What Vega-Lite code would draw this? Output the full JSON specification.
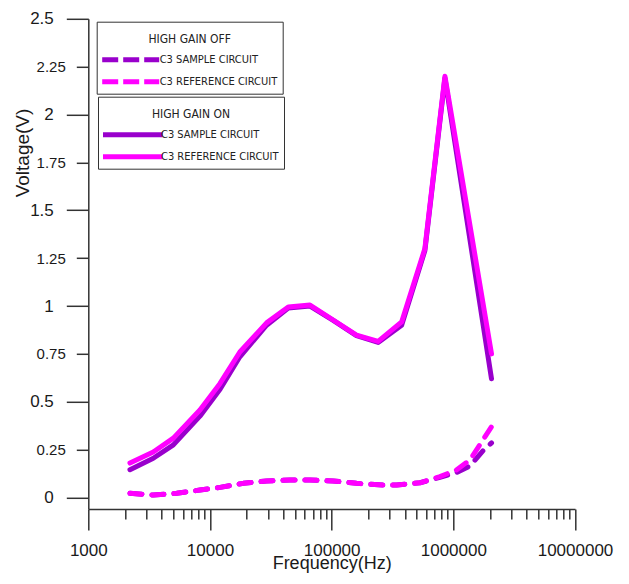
{
  "$schema": "https://vega.github.io/schema/vega-lite/v6.json",
  "width": 486.7,
  "height": 490.2,
  "autosize": {"type": "none"},
  "padding": {"left": 88.3, "top": 18.8, "right": 54, "bottom": 75},
  "background": "white",
  "config": {"view": {"stroke": null}, "font": "Liberation Sans"},
  "data": {
    "values": [
      {"f": 2200, "v": 0.022, "c": "C3 SAMPLE CIRCUIT", "g": "OFF"},
      {"f": 3420, "v": 0.013, "c": "C3 SAMPLE CIRCUIT", "g": "OFF"},
      {"f": 5330, "v": 0.022, "c": "C3 SAMPLE CIRCUIT", "g": "OFF"},
      {"f": 8270, "v": 0.039, "c": "C3 SAMPLE CIRCUIT", "g": "OFF"},
      {"f": 12100, "v": 0.053, "c": "C3 SAMPLE CIRCUIT", "g": "OFF"},
      {"f": 18800, "v": 0.074, "c": "C3 SAMPLE CIRCUIT", "g": "OFF"},
      {"f": 29200, "v": 0.086, "c": "C3 SAMPLE CIRCUIT", "g": "OFF"},
      {"f": 45400, "v": 0.091, "c": "C3 SAMPLE CIRCUIT", "g": "OFF"},
      {"f": 66400, "v": 0.091, "c": "C3 SAMPLE CIRCUIT", "g": "OFF"},
      {"f": 103000, "v": 0.086, "c": "C3 SAMPLE CIRCUIT", "g": "OFF"},
      {"f": 160000, "v": 0.074, "c": "C3 SAMPLE CIRCUIT", "g": "OFF"},
      {"f": 265000, "v": 0.065, "c": "C3 SAMPLE CIRCUIT", "g": "OFF"},
      {"f": 342000, "v": 0.065, "c": "C3 SAMPLE CIRCUIT", "g": "OFF"},
      {"f": 532000, "v": 0.077, "c": "C3 SAMPLE CIRCUIT", "g": "OFF"},
      {"f": 776000, "v": 0.105, "c": "C3 SAMPLE CIRCUIT", "g": "OFF"},
      {"f": 1060000, "v": 0.13, "c": "C3 SAMPLE CIRCUIT", "g": "OFF"},
      {"f": 1370000, "v": 0.165, "c": "C3 SAMPLE CIRCUIT", "g": "OFF"},
      {"f": 1760000, "v": 0.245, "c": "C3 SAMPLE CIRCUIT", "g": "OFF"},
      {"f": 2060000, "v": 0.285, "c": "C3 SAMPLE CIRCUIT", "g": "OFF"},
      {"f": 2200, "v": 0.022, "c": "C3 REFERENCE CIRCUIT", "g": "OFF"},
      {"f": 3420, "v": 0.013, "c": "C3 REFERENCE CIRCUIT", "g": "OFF"},
      {"f": 5330, "v": 0.022, "c": "C3 REFERENCE CIRCUIT", "g": "OFF"},
      {"f": 8270, "v": 0.039, "c": "C3 REFERENCE CIRCUIT", "g": "OFF"},
      {"f": 12100, "v": 0.053, "c": "C3 REFERENCE CIRCUIT", "g": "OFF"},
      {"f": 18800, "v": 0.074, "c": "C3 REFERENCE CIRCUIT", "g": "OFF"},
      {"f": 29200, "v": 0.086, "c": "C3 REFERENCE CIRCUIT", "g": "OFF"},
      {"f": 45400, "v": 0.091, "c": "C3 REFERENCE CIRCUIT", "g": "OFF"},
      {"f": 66400, "v": 0.091, "c": "C3 REFERENCE CIRCUIT", "g": "OFF"},
      {"f": 103000, "v": 0.086, "c": "C3 REFERENCE CIRCUIT", "g": "OFF"},
      {"f": 160000, "v": 0.074, "c": "C3 REFERENCE CIRCUIT", "g": "OFF"},
      {"f": 265000, "v": 0.065, "c": "C3 REFERENCE CIRCUIT", "g": "OFF"},
      {"f": 342000, "v": 0.065, "c": "C3 REFERENCE CIRCUIT", "g": "OFF"},
      {"f": 532000, "v": 0.077, "c": "C3 REFERENCE CIRCUIT", "g": "OFF"},
      {"f": 776000, "v": 0.109, "c": "C3 REFERENCE CIRCUIT", "g": "OFF"},
      {"f": 1060000, "v": 0.144, "c": "C3 REFERENCE CIRCUIT", "g": "OFF"},
      {"f": 1370000, "v": 0.196, "c": "C3 REFERENCE CIRCUIT", "g": "OFF"},
      {"f": 2060000, "v": 0.37, "c": "C3 REFERENCE CIRCUIT", "g": "OFF"},
      {"f": 2200, "v": 0.145, "c": "C3 SAMPLE CIRCUIT", "g": "ON"},
      {"f": 3420, "v": 0.205, "c": "C3 SAMPLE CIRCUIT", "g": "ON"},
      {"f": 5000, "v": 0.275, "c": "C3 SAMPLE CIRCUIT", "g": "ON"},
      {"f": 8270, "v": 0.425, "c": "C3 SAMPLE CIRCUIT", "g": "ON"},
      {"f": 12100, "v": 0.565, "c": "C3 SAMPLE CIRCUIT", "g": "ON"},
      {"f": 17600, "v": 0.735, "c": "C3 SAMPLE CIRCUIT", "g": "ON"},
      {"f": 29200, "v": 0.9, "c": "C3 SAMPLE CIRCUIT", "g": "ON"},
      {"f": 44000, "v": 0.99, "c": "C3 SAMPLE CIRCUIT", "g": "ON"},
      {"f": 66400, "v": 1.0, "c": "C3 SAMPLE CIRCUIT", "g": "ON"},
      {"f": 103000, "v": 0.925, "c": "C3 SAMPLE CIRCUIT", "g": "ON"},
      {"f": 160000, "v": 0.845, "c": "C3 SAMPLE CIRCUIT", "g": "ON"},
      {"f": 241000, "v": 0.81, "c": "C3 SAMPLE CIRCUIT", "g": "ON"},
      {"f": 376000, "v": 0.9, "c": "C3 SAMPLE CIRCUIT", "g": "ON"},
      {"f": 584000, "v": 1.29, "c": "C3 SAMPLE CIRCUIT", "g": "ON"},
      {"f": 853000, "v": 2.19, "c": "C3 SAMPLE CIRCUIT", "g": "ON"},
      {"f": 2060000, "v": 0.62, "c": "C3 SAMPLE CIRCUIT", "g": "ON"},
      {"f": 2200, "v": 0.18, "c": "C3 REFERENCE CIRCUIT", "g": "ON"},
      {"f": 3420, "v": 0.238, "c": "C3 REFERENCE CIRCUIT", "g": "ON"},
      {"f": 5000, "v": 0.31, "c": "C3 REFERENCE CIRCUIT", "g": "ON"},
      {"f": 8270, "v": 0.457, "c": "C3 REFERENCE CIRCUIT", "g": "ON"},
      {"f": 12100, "v": 0.596, "c": "C3 REFERENCE CIRCUIT", "g": "ON"},
      {"f": 17600, "v": 0.76, "c": "C3 REFERENCE CIRCUIT", "g": "ON"},
      {"f": 29200, "v": 0.912, "c": "C3 REFERENCE CIRCUIT", "g": "ON"},
      {"f": 44000, "v": 0.995, "c": "C3 REFERENCE CIRCUIT", "g": "ON"},
      {"f": 66400, "v": 1.005, "c": "C3 REFERENCE CIRCUIT", "g": "ON"},
      {"f": 103000, "v": 0.927, "c": "C3 REFERENCE CIRCUIT", "g": "ON"},
      {"f": 160000, "v": 0.848, "c": "C3 REFERENCE CIRCUIT", "g": "ON"},
      {"f": 241000, "v": 0.815, "c": "C3 REFERENCE CIRCUIT", "g": "ON"},
      {"f": 376000, "v": 0.917, "c": "C3 REFERENCE CIRCUIT", "g": "ON"},
      {"f": 584000, "v": 1.3, "c": "C3 REFERENCE CIRCUIT", "g": "ON"},
      {"f": 853000, "v": 2.2, "c": "C3 REFERENCE CIRCUIT", "g": "ON"},
      {"f": 2060000, "v": 0.75, "c": "C3 REFERENCE CIRCUIT", "g": "ON"}
    ]
  },
  "encoding": {
    "x": {
      "field": "f",
      "type": "quantitative",
      "scale": {"type": "log", "domain": [1000, 10000000], "nice": false},
      "axis": {
        "values": [1000, 2000, 3000, 4000, 5000, 6000, 7000, 8000, 9000, 10000, 20000, 30000, 40000, 50000, 60000, 70000, 80000, 90000, 100000, 200000, 300000, 400000, 500000, 600000, 700000, 800000, 900000, 1000000, 2000000, 3000000, 4000000, 5000000, 6000000, 7000000, 8000000, 9000000, 10000000],
        "labelExpr": "indexof([1000,10000,100000,1000000,10000000], datum.value) >= 0 ? format(datum.value, 'd') : ''",
        "tickSize": {"condition": {"test": "indexof([1000,10000,100000,1000000,10000000], datum.value) >= 0", "value": 21}, "value": 10},
        "labelPadding": 12,
        "labelFlush": false,
        "labelOverlap": false,
        "labelFontSize": 17,
        "labelColor": "#1a1a1a",
        "grid": false,
        "domainColor": "#333",
        "domainWidth": 1.5,
        "tickColor": "#333",
        "tickWidth": 1.5,
        "title": "Frequency(Hz)",
        "titleFontSize": 18,
        "titleFontWeight": "normal",
        "titleColor": "#1a1a1a",
        "titleBaseline": "alphabetic",
        "titleY": 59.5
      }
    },
    "y": {
      "field": "v",
      "type": "quantitative",
      "scale": {"domain": [-0.06, 2.5], "nice": false, "zero": false},
      "axis": {
        "values": [0, 0.25, 0.5, 0.75, 1, 1.25, 1.5, 1.75, 2, 2.25, 2.5],
        "labelExpr": "'' + datum.value",
        "tickSize": {"condition": {"test": "indexof([0.25,0.75,1.25,1.75,2.25], datum.value) >= 0", "value": 12}, "value": 22},
        "labelFontSize": {"condition": {"test": "indexof([0.25,0.75,1.25,1.75,2.25], datum.value) >= 0", "value": 15}, "value": 17},
        "labelPadding": {"condition": {"test": "indexof([0.25,0.75,1.25,1.75,2.25], datum.value) >= 0", "value": 11}, "value": 13},
        "labelColor": "#1a1a1a",
        "grid": false,
        "domainColor": "#333",
        "domainWidth": 1.5,
        "tickColor": "#333",
        "tickWidth": 1.5,
        "title": "Voltage(V)",
        "titleFontSize": 19,
        "titleFontWeight": "normal",
        "titleColor": "#1a1a1a",
        "titleAngle": 270,
        "titleAlign": "center",
        "titleBaseline": "alphabetic",
        "titleX": -59.8,
        "titleY": 133.7
      }
    }
  },
  "layer": [
    {
      "transform": [{"filter": "datum.g === 'OFF'"}],
      "mark": {"type": "line", "strokeWidth": 5, "strokeDash": [12, 10], "strokeCap": "round", "strokeJoin": "round"},
      "encoding": {
        "color": {
          "field": "c",
          "type": "nominal",
          "scale": {"domain": ["C3 SAMPLE CIRCUIT", "C3 REFERENCE CIRCUIT"], "range": ["#9900CC", "#FF00FF"]},
          "legend": {
            "title": "HIGH GAIN OFF",
            "orient": "none",
            "legendX": 8.4,
            "legendY": 2.9,
            "direction": "vertical",
            "symbolType": "stroke",
            "symbolSize": 3249,
            "symbolStrokeWidth": 5,
            "symbolDash": [16, 5],
            "symbolOffset": -2,
            "clipHeight": 14,
            "rowPadding": 8,
            "padding": 5,
            "strokeColor": "#333",
            "fillColor": "white",
            "titleFont": "DejaVu Sans Condensed, DejaVu Sans",
            "titleFontSize": 12,
            "titleFontWeight": "normal",
            "titleAnchor": "middle",
            "titleBaseline": "line-top",
            "titleLineHeight": 26,
            "titlePadding": 14,
            "titleColor": "#222",
            "labelFont": "DejaVu Sans Condensed, DejaVu Sans",
            "labelFontSize": 11,
            "labelColor": "#222",
            "labelOffset": -2,
            "labelLimit": 300
          }
        }
      }
    },
    {
      "transform": [{"filter": "datum.g === 'ON'"}],
      "mark": {"type": "line", "strokeWidth": 5, "strokeCap": "round", "strokeJoin": "round"},
      "encoding": {
        "color": {
          "field": "c",
          "type": "nominal",
          "scale": {"domain": ["C3 SAMPLE CIRCUIT", "C3 REFERENCE CIRCUIT"], "range": ["#9900CC", "#FF00FF"]},
          "legend": {
            "title": "HIGH GAIN ON",
            "orient": "none",
            "legendX": 9.7,
            "legendY": 77.9,
            "direction": "vertical",
            "symbolType": "stroke",
            "symbolSize": 3600,
            "symbolStrokeWidth": 5,
            "symbolOffset": -3,
            "clipHeight": 14,
            "rowPadding": 8,
            "padding": 5,
            "strokeColor": "#333",
            "fillColor": "white",
            "titleFont": "DejaVu Sans Condensed, DejaVu Sans",
            "titleFontSize": 12,
            "titleFontWeight": "normal",
            "titleAnchor": "middle",
            "titleBaseline": "line-top",
            "titleLineHeight": 26,
            "titlePadding": 14,
            "titleColor": "#222",
            "labelFont": "DejaVu Sans Condensed, DejaVu Sans",
            "labelFontSize": 11,
            "labelColor": "#222",
            "labelOffset": -4,
            "labelLimit": 300
          }
        }
      }
    }
  ],
  "resolve": {"scale": {"color": "independent"}}
}
